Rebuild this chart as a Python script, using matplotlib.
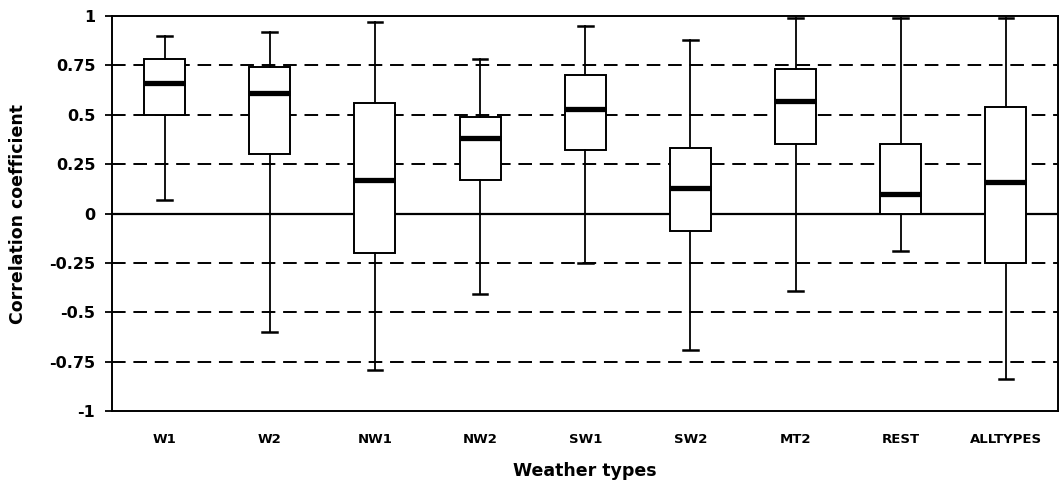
import matplotlib.pyplot as plt
from matplotlib.ticker import FixedLocator

plt.rcParams['font.family'] = ['DejaVu Sans']

# valeurs
types = ['W1', 'W2', 'NW1', 'NW2', 'SW1', 'SW2', 'MT2', 'REST', 'ALLTYPES']
whislo = [0.07, -0.60, -0.79, -0.41, -0.25, -0.69, -0.39, -0.19, -0.84]
q1 = [0.50, 0.30, -0.20, 0.17, 0.32, -0.09, 0.35, 0.00, -0.25]
med = [0.66, 0.61, 0.17, 0.38, 0.53, 0.13, 0.57, 0.10, 0.16]
q3 = [0.78, 0.74, 0.56, 0.49, 0.70, 0.33, 0.73, 0.35, 0.54]
whishi = [0.90, 0.92, 0.97, 0.78, 0.95, 0.88, 0.99, 0.99, 0.99]
yticks = [-1, -0.75, -0.5, -0.25, 0, 0.25, 0.5, 0.75, 1]
ytick_labels = ['-1', '-0.75', '-0.5', '-0.25', '0', '0.25', '0.5', '0.75', '1']

stats = []
for i in range(len(types)):
    stats.append({'label': types[i], 'whislo': whislo[i], 'q1': q1[i],
                  'med': med[i], 'q3': q3[i], 'whishi': whishi[i], 'fliers': []})

fig = plt.figure(figsize=(10.61, 4.93), dpi=100)
ax = fig.add_axes([0.1056, 0.1663, 0.892, 0.8012])

for y in yticks[1:-1]:
    if y == 0:
        ax.axhline(y, color='black', lw=1.6, zorder=1)
    else:
        ax.axhline(y, color='black', lw=1.4, ls=(0, (7, 4)), zorder=1)

ax.bxp(stats, positions=range(1, len(types) + 1), widths=0.39, showfliers=False,
       patch_artist=True,
       boxprops=dict(facecolor='white', edgecolor='black', lw=1.4),
       medianprops=dict(color='black', lw=3.8),
       whiskerprops=dict(color='black', lw=1.3),
       capprops=dict(color='black', lw=1.8),
       capwidths=0.14)

ax.set_xlim(0.5, len(types) + 0.5)
ax.set_ylim(-1, 1)
ax.yaxis.set_major_locator(FixedLocator(yticks))
ax.set_yticklabels(ytick_labels, fontsize=11.5, fontweight='bold')
ax.set_xticks(range(1, len(types) + 1))
ax.set_xticklabels(types, fontsize=9.5, fontweight='bold')
ax.tick_params(axis='x', length=0, pad=16)
ax.tick_params(axis='y', length=5, width=1.3, direction='out', pad=7)
for s in ax.spines.values():
    s.set_linewidth(1.4)

ax.set_ylabel('Correlation coefficient', fontsize=12.5, fontweight='bold', labelpad=16)
ax.set_xlabel('Weather types', fontsize=12.5, fontweight='bold', labelpad=11)

fig.savefig('out.png', dpi=100)
